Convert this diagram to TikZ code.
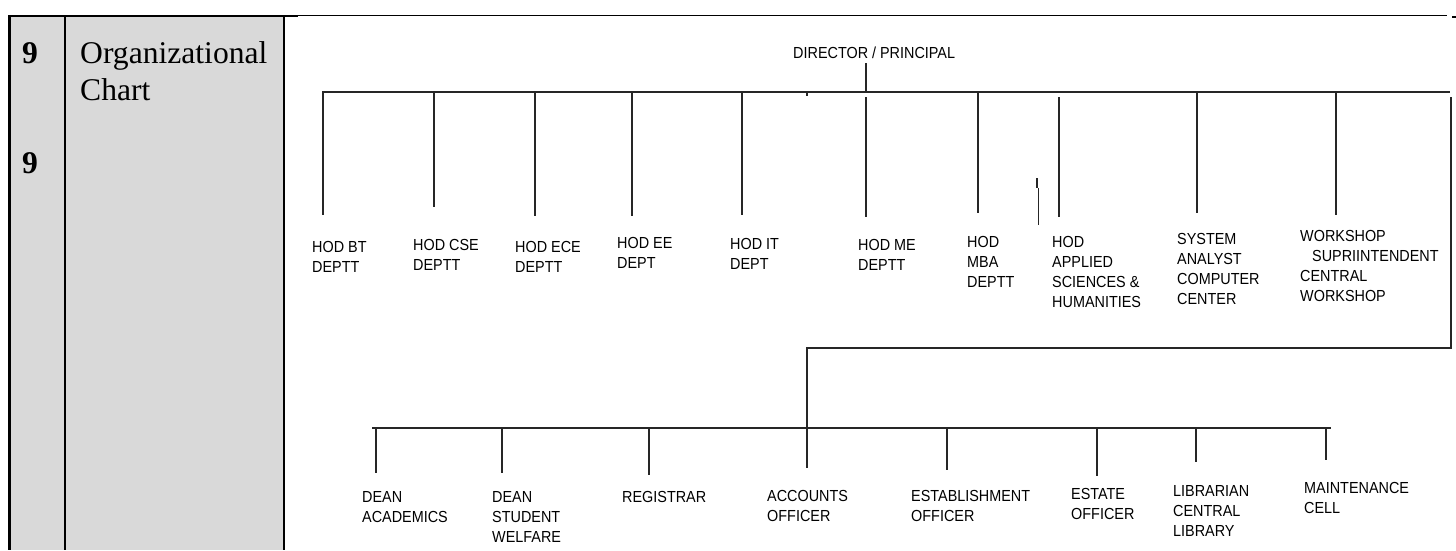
\documentclass[tikz,border=0pt]{standalone}
\usepackage{fontspec}
\setmainfont{Liberation Serif}
\newfontfamily\chartfont[FakeStretch=0.9]{Liberation Sans}
\definecolor{cellgray}{HTML}{D9D9D9}
\begin{document}
\begin{tikzpicture}[x=1pt,y=-1pt,
  conn/.style={line width=1.3pt, black!85},
  tabline/.style={line width=2.6pt, black},
  lbl/.style={anchor=north west, inner sep=0pt, align=left,
              font=\chartfont\fontsize{16}{20}\selectfont},
  numtxt/.style={anchor=base west, inner sep=0pt,
              font=\bfseries\fontsize{31.6}{37}\selectfont},
  celltxt/.style={anchor=north west, inner sep=0pt, align=left,
              font=\fontsize{31.6}{37}\selectfont}]
\useasboundingbox (0,0) rectangle (1456,550);
% ---- table part ----
\fill[cellgray] (9,16) rectangle (284,550);
\draw[line width=2pt] (8,15.7) -- (298,15.7);
\draw[line width=1.4pt] (298,15.7) -- (1447,15.7);
\draw[line width=2pt] (1452,16.5) -- (1456,16.5);
\draw[tabline] (9.3,15) -- (9.3,550);
\draw[tabline] (65,15) -- (65,550);
\draw[tabline] (284,15) -- (284,550);
\node[numtxt] (numA) at (22,63) {9};
\node[numtxt] (numB) at (22,173) {9};
\node[celltxt] (title) at (80,41.5) {Organizational\\Chart};
% ---- top level ----
\node[lbl] (dir) at (793,46.8) {DIRECTOR / PRINCIPAL};
\coordinate (dirTop) at (866,63);
\coordinate (dirBus) at (866,92);
\coordinate (busL) at (322,92);
\coordinate (busR) at (1450,92);
\draw[conn] (busL) -- (busR);
\draw[conn] (dirTop) -- (dirBus);
\draw[conn] (807,92) -- (807,95.5);
% drops of the first row
\foreach \nm/\x/\ya/\yb in {bt/323/92/215, cse/434/92/207, ece/535/92/216,
   ee/632/92/216, it/742/92/215, me/866/97/217, mba/978/92/213,
   app/1059/97/217, sys/1197/92/213, ws/1336/92/215}{
  \coordinate (\nm-a) at (\x,\ya);
  \coordinate (\nm-b) at (\x,\yb);
  \draw[conn] (\nm-a) -- (\nm-b);
}
% stray short line
\coordinate (st1) at (1037,178);
\coordinate (st2) at (1037,188);
\coordinate (st3) at (1038.5,188);
\coordinate (st4) at (1038.5,225);
\draw[conn] (st1) -- (st2);
\draw[conn] (st3) -- (st4);
% labels first row
\node[lbl] (hbt)  at (312,241.3) {HOD BT\\DEPTT};
\node[lbl] (hcse) at (413,239.3) {HOD CSE\\DEPTT};
\node[lbl] (hece) at (515,241.3) {HOD ECE\\DEPTT};
\node[lbl] (hee)  at (617,237.3) {HOD EE\\DEPT};
\node[lbl] (hit)  at (730,238.3) {HOD IT\\DEPT};
\node[lbl] (hme)  at (858,239.3) {HOD ME\\DEPTT};
\node[lbl] (hmba) at (967,236.3) {HOD\\MBA\\DEPTT};
\node[lbl] (happ) at (1052,236.3) {HOD\\APPLIED\\SCIENCES \&\\HUMANITIES};
\node[lbl] (hsys) at (1177,233.3) {SYSTEM\\ANALYST\\COMPUTER\\CENTER};
\node[lbl] (hws)  at (1300,230.3) {WORKSHOP\\\hspace*{12pt}SUPRIINTENDENT\\CENTRAL\\WORKSHOP};
% loop to the second row
\coordinate (loopA) at (1451,97);
\coordinate (loopB) at (1451,348);
\coordinate (loopC) at (807,348);
\coordinate (bus2J) at (807,428);
\draw[conn] (loopA) -- (loopB) -- (loopC) -- (bus2J);
\coordinate (bus2L) at (372,428);
\coordinate (bus2R) at (1331,428);
\draw[conn] (bus2L) -- (bus2R);
\foreach \nm/\x/\yb in {acad/376/473, sw/502/473, reg/649/475, acc/807/468,
   est/947/470, estate/1097/476, lib/1196/462, mnt/1326/460}{
  \coordinate (\nm-a) at (\x,428);
  \coordinate (\nm-b) at (\x,\yb);
  \draw[conn] (\nm-a) -- (\nm-b);
}
% labels second row
\node[lbl] (dacad) at (362,491.3) {DEAN\\ACADEMICS};
\node[lbl] (dsw)   at (492,491.3) {DEAN\\STUDENT\\WELFARE};
\node[lbl] (rgs)   at (622,491.3) {REGISTRAR};
\node[lbl] (accs)  at (767,490.3) {ACCOUNTS\\OFFICER};
\node[lbl] (estb)  at (911,490.3) {ESTABLISHMENT\\OFFICER};
\node[lbl] (esto)  at (1071,488.3) {ESTATE\\OFFICER};
\node[lbl] (libr)  at (1173,485.3) {LIBRARIAN\\CENTRAL\\LIBRARY};
\node[lbl] (mntc)  at (1304,482.3) {MAINTENANCE\\CELL};
\end{tikzpicture}
\end{document}
